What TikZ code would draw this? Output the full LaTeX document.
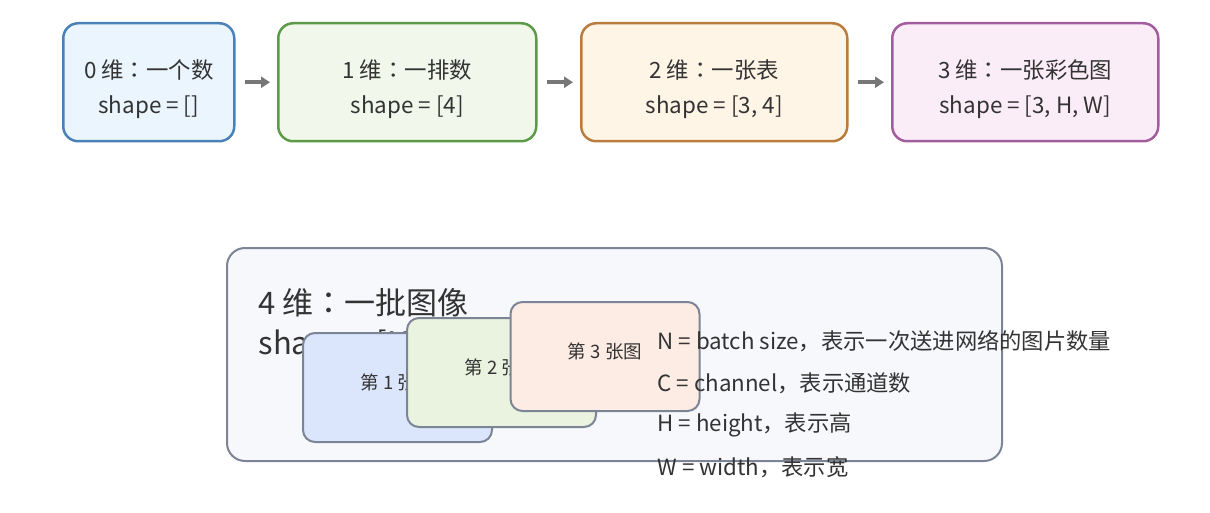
\documentclass[tikz,border=0pt]{standalone}
\usepackage{fontspec}
\setmainfont{Noto Sans CJK SC}
\newfontfamily\jpfont{Noto Sans CJK JP}
\newcommand\zhcolon{{\jpfont ：}}
\usetikzlibrary{arrows.meta,positioning}
\definecolor{ink}{HTML}{333333}
\definecolor{zeroline}{HTML}{4A82B8}
\definecolor{zerofill}{HTML}{EBF5FE}
\definecolor{oneline}{HTML}{5C9A48}
\definecolor{onefill}{HTML}{F1F8EB}
\definecolor{twoline}{HTML}{B97C3D}
\definecolor{twofill}{HTML}{FFF5E7}
\definecolor{threeline}{HTML}{A35D9D}
\definecolor{threefill}{HTML}{FBEDF7}
\definecolor{slate}{HTML}{7C8596}
\definecolor{batchfill}{HTML}{F7F8FC}
\definecolor{pageone}{HTML}{DBE6FD}
\definecolor{pagetwo}{HTML}{E9F3E0}
\definecolor{pagethree}{HTML}{FDECE3}
\definecolor{arrowgray}{HTML}{777777}

\begin{document}
\begin{tikzpicture}[x=1pt,y=-1pt,
    dimbox/.style={line width=2.5pt,rounded corners=15pt,minimum height=118pt,anchor=north west},
    dimtext/.style={text=ink,align=center,font=\fontsize{22.4}{35}\selectfont},
    flow/.style={-{Triangle[length=9pt,width=11pt]},line width=3.5pt,arrowgray,
      shorten <=9pt,shorten >=7pt},
    pagecard/.style={draw=slate,line width=2pt,rounded corners=12pt,
      minimum width=189pt,minimum height=109pt}]
  \useasboundingbox (0,0) rectangle (1210,513);

  % the four small tensors
  \foreach \t/\s/\c/\x/\w [count=\i from 0] in {
    {0 维\zhcolon 一个数}/{[]}/zero/62/171,
    {1 维\zhcolon 一排数}/{[4]}/one/277/258,
    {2 维\zhcolon 一张表}/{[3, 4]}/two/580/266,
    {3 维\zhcolon 一张彩色图}/{[3, H, W]}/three/891/266}
  {
    \node[dimbox,draw=\c line,fill=\c fill,minimum width=\w pt] (d\i) at (\x,22) {};
    \node[dimtext] (t\i) at ([yshift=-6.5pt]d\i.center) {\t\\shape = \s};
  }
  \foreach \i/\j in {0/1,1/2,2/3}
    \draw[flow] (d\i) -- (d\j);

  % the batch
  \node[draw=slate,fill=batchfill,line width=2pt,rounded corners=18pt,anchor=north west,
    minimum width=775pt,minimum height=213pt] (batch) at (226,247) {};
  \node[anchor=north west,align=left,text=ink,font=\fontsize{31}{40}\selectfont] (title)
    at (255,285) {4 维\zhcolon 一批图像\\shape = [N, C, H, W]};
  \foreach \f/\x/\y [count=\i] in {pageone/397.5/387.5,pagetwo/501.5/372.5,pagethree/605/356.5}
  {
    \node[pagecard,fill=\f] (p\i) at (\x,\y) {};
    \node[text=ink,font=\fontsize{18.5}{20}\selectfont] (c\i) at ([yshift=5pt]p\i.center) {第 \i{} 张图};
  }

  \foreach \d [count=\i] in {
    N = batch size，表示一次送进网络的图片数量,
    C = channel，表示通道数,
    H = height，表示高,
    W = width，表示宽}
  {
    \node[anchor=west,text=ink,font=\fontsize{22.3}{25}\selectfont] (l\i) at (654,299+42*\i) {\d};
  }
\end{tikzpicture}
\end{document}
